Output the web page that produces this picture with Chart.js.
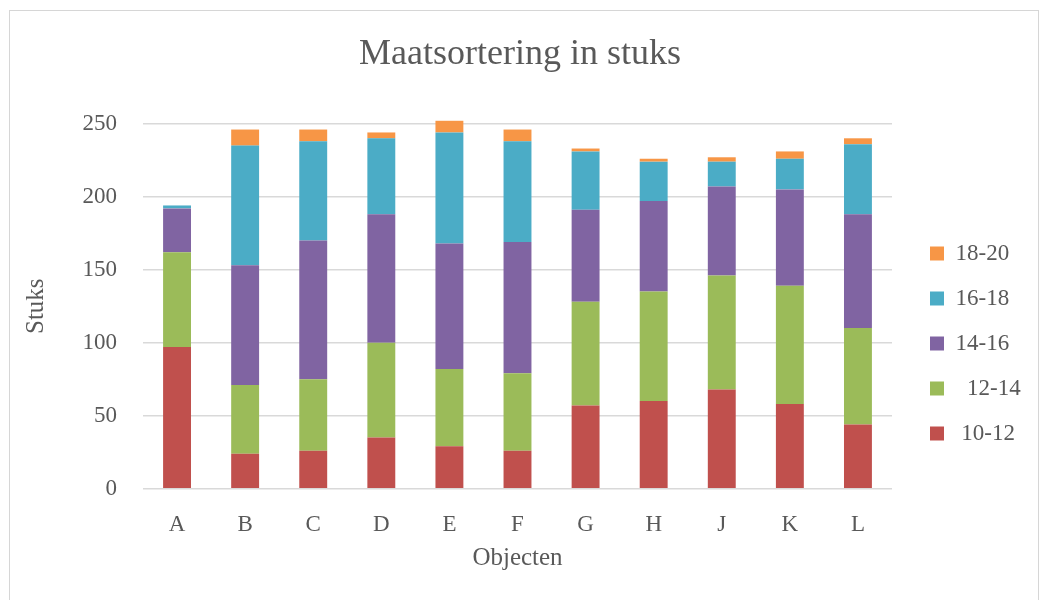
<!DOCTYPE html>
<html>
<head>
<meta charset="utf-8">
<title>Maatsortering in stuks</title>
<script src="https://cdn.jsdelivr.net/npm/chart.js@4.4.1/dist/chart.umd.min.js"></script>
<style>
    body { margin: 0; background: #ffffff; }
    #wrap { position: relative; width: 1040px; height: 600px; overflow: hidden; }
    #frame {
        position: absolute; left: 9px; top: 10px; width: 1028px; height: 640px;
        border: 1px solid #d6d6d6; pointer-events: none;
    }
</style>
</head>
<body>
<div id="wrap">
    <canvas id="chart" width="1040" height="600"></canvas>
    <div id="frame"></div>
</div>
<script>
const objecten = ['A', 'B', 'C', 'D', 'E', 'F', 'G', 'H', 'J', 'K', 'L'];

// aantal stuks per maatklasse
const maat10_12 = [97, 24, 26, 35, 29, 26, 57, 60, 68, 58, 44];
const maat12_14 = [65, 47, 49, 65, 53, 53, 71, 75, 78, 81, 66];
const maat14_16 = [30, 82, 95, 88, 86, 90, 63, 62, 61, 66, 78];
const maat16_18 = [2, 82, 68, 52, 76, 69, 40, 27, 17, 21, 48];
const maat18_20 = [0, 11, 8, 4, 8, 8, 2, 2, 3, 5, 4];

const yTicks = [0, 50, 100, 150, 200, 250];

const TEXT = '#595959';
const GRID = '#d9d9d9';

Chart.defaults.font.family = '"Liberation Serif", "Times New Roman", serif';
Chart.defaults.color = TEXT;

// legend sits in its own column right of the plot
const legendColumn = {
    id: 'legendColumn',
    beforeLayout(chart) {
        const legend = chart.legend;
        if (legend.columnFit) return;
        const fit = legend.fit;
        legend.fit = function () {
            fit.call(this);
            this.width = 148;
        };
        legend.columnFit = true;
    },
    afterLayout(chart) {
        chart.legend.left += 16;
        chart.legend.top = 220;
    }
};

function makeDataset(label, data, color)
{
    return {
        label: label,
        data: data,
        backgroundColor: color,
        borderWidth: 0,
        categoryPercentage: 1,
        barPercentage: 0.41,
        clip: false   // E sticks out above 250
    };
}

new Chart(document.getElementById('chart'), {
    type: 'bar',
    data: {
        labels: objecten,
        datasets: [
            makeDataset(' 10-12', maat10_12, '#C0504D'),
            makeDataset('  12-14', maat12_14, '#9BBB59'),
            makeDataset('14-16', maat14_16, '#8064A2'),
            makeDataset('16-18', maat16_18, '#4BACC6'),
            makeDataset('18-20', maat18_20, '#F79646')
        ]
    },
    plugins: [legendColumn],
    options: {
        responsive: false,
        animation: false,
        devicePixelRatio: 1,
        layout: { padding: 0 },
        plugins: {
            title: {
                display: true,
                text: 'Maatsortering in stuks',
                color: TEXT,
                font: { size: 36, weight: 'normal' },
                padding: { top: 33, bottom: 47.5 }
            },
            legend: {
                position: 'right',
                align: 'start',
                reverse: true,
                labels: {
                    color: TEXT,
                    font: { size: 23 },
                    boxWidth: 14,
                    boxHeight: 14,
                    padding: 22
                }
            },
            tooltip: { enabled: false }
        },
        scales: {
            x: {
                stacked: true,
                offset: true,
                grid: { display: false },
                border: { display: false },
                ticks: { font: { size: 23 }, padding: 14, color: TEXT },
                title: {
                    display: true,
                    text: 'Objecten',
                    color: TEXT,
                    font: { size: 25 },
                    padding: { top: 0, bottom: 26.7 }
                },
                afterFit(scale) {
                    scale.height = 111.3;
                }
            },
            y: {
                stacked: true,
                min: yTicks[0],
                max: yTicks[yTicks.length - 1],
                afterBuildTicks(scale) {
                    scale.ticks = yTicks.map(v => ({ value: v }));
                },
                grid: { color: GRID, lineWidth: 1.5, drawTicks: false },
                border: { display: false },
                ticks: { font: { size: 23 }, padding: 26, color: TEXT },
                title: {
                    display: true,
                    text: 'Stuks',
                    color: TEXT,
                    font: { size: 25 },
                    padding: { top: 21, bottom: 0 }
                },
                afterFit(scale) {
                    scale.width = 143;
                }
            }
        }
    }
});
</script>
</body>
</html>
